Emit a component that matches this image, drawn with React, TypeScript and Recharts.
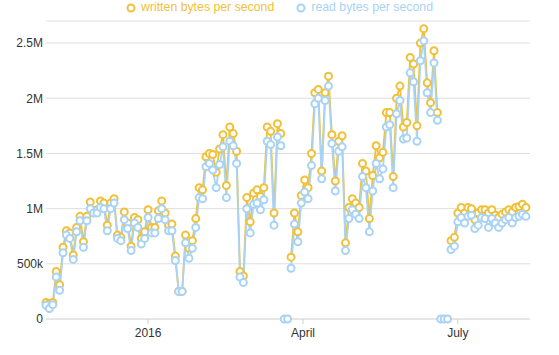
import React from "react";
import { LineChart, Line, XAxis, YAxis, CartesianGrid } from "recharts";

const DAY = 86400000;
// samples every 2 days starting here
const firstSample = Date.UTC(2015, 10, 2);
const domainEnd = Date.UTC(2016, 7, 12, 10);
const xTicks = [Date.UTC(2016, 0, 1), Date.UTC(2016, 3, 1), Date.UTC(2016, 6, 1)];
const yTicks = [0, 500000, 1000000, 1500000, 2000000, 2500000];
const monthNames = ["January", "February", "March", "April", "May", "June", "July", "August", "September", "October", "November", "December"];

// kB/s, null = no sample
const writtenK = [
  150, 140, 150, 430, 310, 650, 800, 780, 580, 830,
  930, 700, 930, 1060, 970, 990, 1070, 1050, 850, 1050,
  1090, 760, 740, 970, 870, 660, 920, 900, 730, 790,
  990, 830, 830, 980, 1070, 960, 850, 860, 570, 250,
  250, 760, 640, 710, 910, 1190, 1170, 1470, 1500, 1490,
  1330, 1540, 1670, 1210, 1740, 1680, 1520, 430, 390, 1100,
  880, 1140, 1170, 1110, 1190, 1740, 1700, 960, 1770, 1680,
  null, null, 560, 960, 790, 1120, 1260, 1190, 1500, 2050,
  2080, 1340, 2050, 2200, 1670, 1250, 1610, 1660, 690, 1010,
  1090, 1050, 1010, 1410, 1340, 910, 1300, 1570, 1460, 1510,
  1870, 1870, 1290, 2000, 2110, 1740, 1780, 2370, 2310, 1750,
  2500, 2630, 2140, 1960, 2430, 1870, null, null, null, 710,
  740, 960, 1010, 960, 1010, 1000, 900, 960, 990, 990,
  960, 990, 940, 920, 950, 970, 990, 970, 1010, 1020,
  1040, 1010,
];

const readK = [
  125, 95, 130, 380, 260, 600, 760, 730, 540, 790,
  890, 650, 890, 1000, 960, 960, 1010, 1000, 800, 1000,
  1050, 730, 710, 900, 820, 620, 870, 830, 680, 730,
  920, 780, 780, 910, 1000, 900, 800, 800, 530, 250,
  250, 690, 550, 640, 830, 1100, 1090, 1380, 1410, 1350,
  1190, 1400, 1560, 1100, 1610, 1570, 1410, 380, 330, 1000,
  780, 1040, 1050, 990, 1080, 1610, 1580, 850, 1650, 1570,
  null, null, 460, 860, 700, 1050, 1150, 1090, 1390, 1950,
  2000, 1270, 1980, 2110, 1590, 1160, 1520, 1560, 620, 910,
  990, 950, 910, 1290, 1190, 790, 1160, 1410, 1270, 1360,
  1740, 1760, 1190, 1860, 1980, 1630, 1640, 2230, 2150, 1610,
  2340, 2520, 2050, 1870, 2320, 1800, null, null, null, 630,
  660, 880, 920, 870, 930, 940, 820, 850, 920, 910,
  830, 910, 870, 830, 870, 900, 920, 870, 920, 930,
  950, 930,
];

const series = [
  { key: "written", name: "written bytes per second", color: "#f0c139" },
  { key: "read", name: "read bytes per second", color: "#a9d3f5" },
];

const rows = writtenK.map((w, i) => ({
  t: firstSample + i * 2 * DAY,
  written: w == null ? null : w * 1000,
  read: readK[i] == null ? null : readK[i] * 1000,
  // missing samples still get a marker on the baseline
  missing: readK[i] == null ? 0 : null,
}));

function formatBytes(v: number) {
  if (v === 0) return "0";
  if (v >= 1000000) return `${v / 1000000}M`;
  return `${v / 1000}k`;
}

function formatDate(v: number) {
  const d = new Date(v);
  return d.getUTCMonth() === 0 ? String(d.getUTCFullYear()) : monthNames[d.getUTCMonth()];
}

if (typeof document !== "undefined") document.body.style.margin = "0";

function LegendRow() {
  return (
    <div
      style={{
        position: "absolute",
        top: 0,
        left: 0,
        width: 559,
        display: "flex",
        justifyContent: "center",
        gap: 22,
        fontSize: 12.3,
        lineHeight: "14px",
      }}
    >
      {series.map((s) => (
        <div key={s.key} style={{ display: "flex", alignItems: "flex-start" }}>
          <svg width={10} height={10} style={{ marginTop: 3, marginRight: 5 }}>
            <circle cx={5} cy={5} r={3.5} fill="#fff" stroke={s.color} strokeWidth={2} />
          </svg>
          <span style={{ color: s.color }}>{s.name}</span>
        </div>
      ))}
    </div>
  );
}

export default function App() {
  return (
    <div style={{ position: "relative", width: 559, height: 355, fontFamily: "'Liberation Sans', Arial, sans-serif" }}>
      <LineChart width={559} height={355} data={rows} margin={{ top: 21, right: 29, bottom: 6, left: 0 }}>
        <CartesianGrid vertical={false} stroke="#dedede" />
        <XAxis
          dataKey="t"
          type="number"
          domain={[firstSample, domainEnd]}
          ticks={xTicks}
          tickFormatter={formatDate}
          height={30}
          tickSize={5}
          tickMargin={4}
          axisLine={{ stroke: "#dedede" }}
          tickLine={{ stroke: "#cfcfcf" }}
          tick={{ fill: "#333", fontSize: 12 }}
        />
        <YAxis
          domain={[0, 2700000]}
          ticks={yTicks}
          tickFormatter={formatBytes}
          width={46}
          axisLine={false}
          tickLine={false}
          tickSize={0}
          tickMargin={3}
          tick={{ fill: "#333", fontSize: 12 }}
        />
        {series.map((s) => (
          <Line
            key={s.key}
            dataKey={s.key}
            name={s.name}
            type="linear"
            stroke={s.color}
            strokeWidth={1.8}
            dot={{ r: 3.5, strokeWidth: 2, fill: "#fff", stroke: s.color }}
            activeDot={false}
            isAnimationActive={false}
          />
        ))}
        <Line
          dataKey="missing"
          stroke="none"
          legendType="none"
          dot={{ r: 3.5, strokeWidth: 2, fill: "#fff", stroke: series[1].color }}
          activeDot={false}
          isAnimationActive={false}
        />
      </LineChart>
      <LegendRow />
    </div>
  );
}
